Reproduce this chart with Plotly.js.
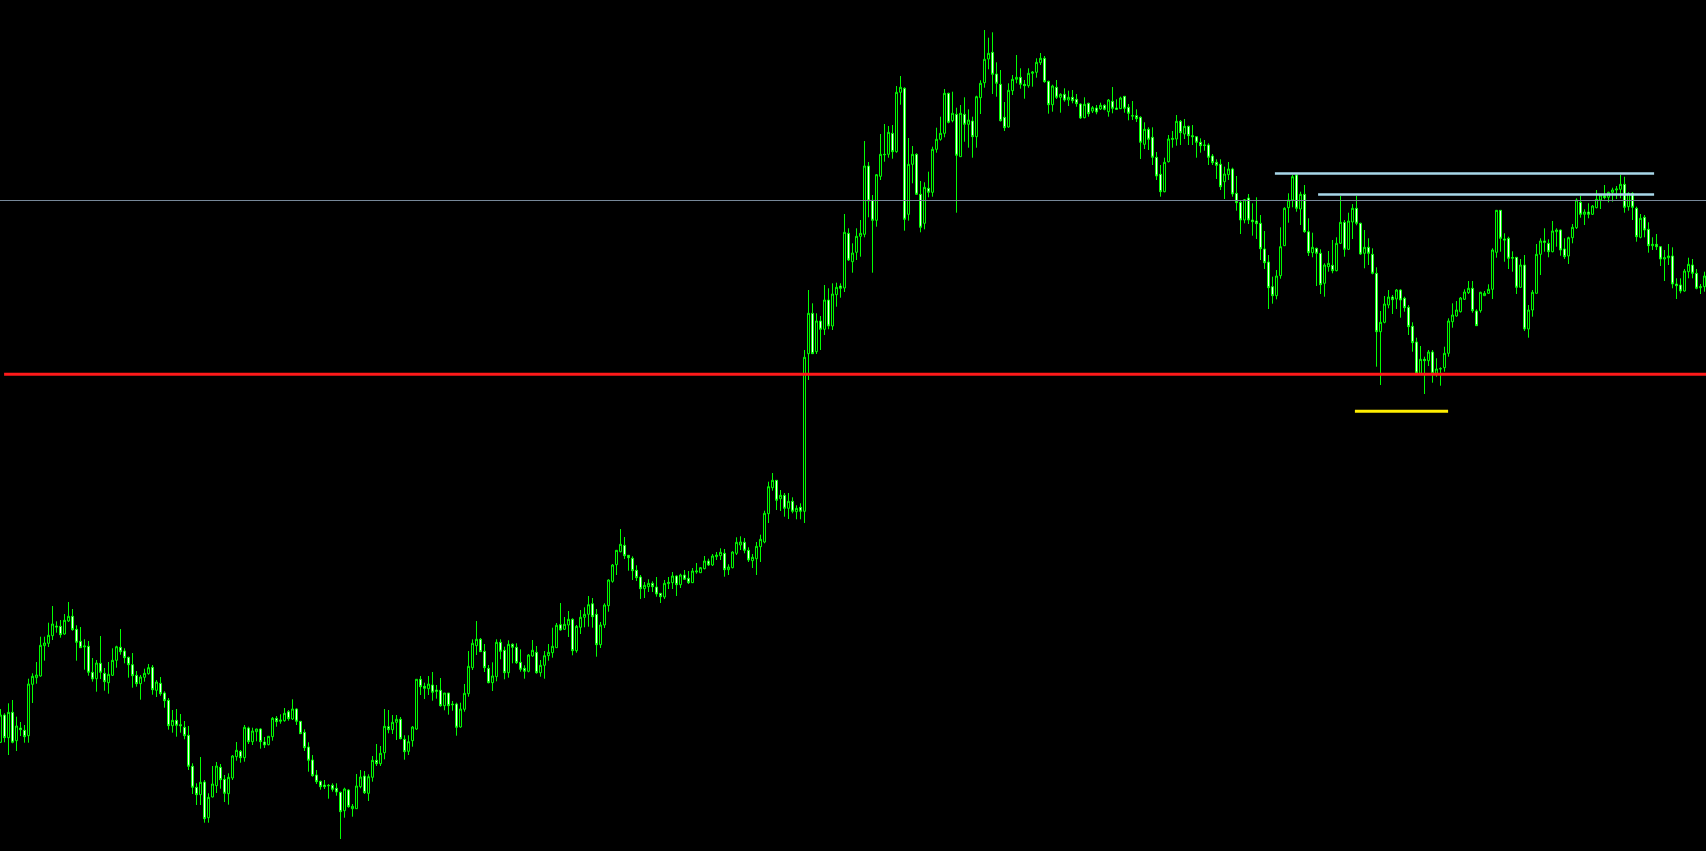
<!DOCTYPE html>
<html>
<head>
<meta charset="utf-8">
<script src="https://cdn.plot.ly/plotly-3.0.1.min.js"></script>
<style>
html,body{margin:0;padding:0;background:#000;overflow:hidden;}
#chart{width:1706px;height:851px;}
</style>
</head>
<body>
<div id="chart"></div>
<script>
// Candle data (price units), one entry per bar, left to right
const openPrices = [
257.7,285,262.3,287.7,259.3,272,269.7,264.3,315.7,322.3,
324,354.3,356.7,364.3,374,373.7,366,379,383.7,370.7,
358.7,353,353.7,327.7,321.3,336.7,326.7,317.3,324.7,339.7,
352.7,349,342.7,335.3,324.7,316.3,322.7,326.3,332.7,309.7,
316.7,307,299.7,274.3,279.7,275.3,272.7,264.7,233.7,212.7,
205.3,218,182.3,203,214.3,232.7,220.7,206.3,222,243.3,
248.7,242.3,272,258.3,268.3,271,258,255.3,263.3,281.7,
278.7,279.3,288.3,281,291,278.7,267.7,253,240,225,
218.7,215,214.7,214.7,211.7,207.7,189.3,210,191.3,191.3,
213.3,224,206.7,222.7,239.7,236.3,247.3,273.3,270.3,277.7,
280.7,260.7,248.7,259.3,271,320.7,313.7,311.3,315,310,
309.7,294.3,307,296,296,273,290.7,306.3,332.3,354.3,
360.7,348.7,331.7,317.3,323.3,357.7,349.7,327.3,355.7,352.7,
337.7,331.7,328.7,344,347.7,327.3,334.7,344.3,347.3,352.3,
375.3,370.7,375,380.7,349.3,372.7,382.7,385.7,396.3,385.7,
355.3,375,394.3,418.7,435.3,448.3,454.7,444.7,441.7,429.7,
423,411.3,413.3,416.7,413,406.7,403,416.3,417.3,424,
415.3,425,421.7,417.3,428,427.3,431.3,439,435,443.3,
444.3,446.7,430.3,432.3,446.7,455,457.7,449.7,439.3,441.3,
453.3,458,486.3,512.3,519.7,501.3,504.7,491.7,498.7,488.3,
492.7,488.7,646.3,686.7,648.3,679,670.7,700,674,705.3,
714,712,766.7,738.3,747.7,763.7,765.7,834,799.7,779.7,
823.7,845.7,845.7,866.7,848.3,907.7,911.7,785.7,835.7,845.7,
805.7,776.7,811.7,807.7,850.7,860.7,866.7,906.7,879.3,885.7,
843.3,885.7,875.7,879,863.3,902.3,917.3,941,947.7,926,
915.7,882.7,873,909.3,920.7,922.7,915.7,914.3,926.7,927.7,
937.3,941.7,918.7,895.3,912.7,902.7,905.7,900,902.7,900.7,
896,882.3,896.7,889,892,891,894.7,888.3,898.7,892,
891.3,903.7,892.7,884.3,884.3,882.7,855.7,870.7,862.7,842.7,
825.7,808.3,838.3,860.5,861,878.7,866,873.7,864.3,863.3,
857.7,855,855,844,837.7,835.7,818.3,825.3,831,806.7,
797.7,780,802,780,779,776.7,751,738,713.3,704.3,
724.3,754.3,792.3,800,825,791,805.7,768.3,747.3,751.7,
746.7,716.7,733.3,734.7,729.3,756.7,777.7,750.7,778,791.7,
776.7,746.7,752.7,745.7,726.7,668.3,677.7,695,703,701,
710,701.7,692.7,673.7,658,626.7,640.7,639.3,648,626.7,
631,632.3,646.7,678.3,684,688.3,700.7,707.3,711.7,689,
689.3,704.3,706.7,710.7,747.7,789.7,761,761.7,741.7,742.7,
712.7,735,671,690,706.7,745.7,759,756.7,748.3,768.3,
770,751,744,762.3,772.3,797.7,785.7,788,785.7,792.3,
800,804.3,802.7,807.7,810,810.7,815.7,793.3,806.7,791.7,
762.7,782.7,770.7,754.3,755.7,753.3,741,742.3,744,716,
715,709,728.3,735,726.7,712.3,713.3
];
const highPrices = [
291,286.7,296.7,300,283.3,278,275,321.3,326.7,338,
363.3,363.3,377.3,394,378.7,380,386,398,391,374.7,
373,360.7,359,342,340,364,332,338,351.7,354.3,
371,351.7,343.3,347,329,325,331.3,336,335,320,
323,308.7,302,290,291,286,279,274,236.7,216.7,
243,220,206.7,234,238,236,225,226.7,245,258,
250,275,273.3,272.3,271.3,271.7,263,263.7,283,284,
285.7,292,290,300.7,291.7,279,270.7,257.7,245,230,
219.3,220,216,216.7,216.7,208.3,212.3,210.7,196,226,
230,229,225.7,244,256,254,291,290,285,285,
283,264.7,264.7,274,321,324,317.3,324,328,315,
322,307,307,299,297.3,297.3,316,349,360.7,379,
362,356,335,337.7,360.7,360.7,353.3,359.7,356.7,356.7,
350.7,334.7,346,360,354,340,349,356,372.3,377,
397,383,389,381.7,375,390,392.7,404,402,391,
378,396.7,420.7,436,450,471,463,445,443.7,434.7,
425,418,420.7,418.7,423,407,420,423,428,424.7,
426.3,430,429,432,437,433,444,441.3,446,448,
451.7,451,435.7,448.7,462.7,463.7,462,452.7,446,458,
465.3,489.3,518.3,527,520,510,507,507,502.7,494.7,
496.7,650,710,696.7,686.7,684,715,711.7,716.7,717.3,
716.7,786,771.7,756.7,771.7,780,859,838,805,826,
866,876,874,875,914,924,912.7,862,854,846.7,
819,817.7,828.3,853.3,872.3,883.3,911,907.3,908.3,892.3,
895,902.7,890.7,883.3,904.3,919.7,970,962.3,967.7,937.7,
930,898,916.7,925,945,931.7,920,931.7,929,941.7,
947,944,919.3,915.3,920,906.7,911.7,909.3,910,906,
896.7,902.7,897.3,894,895,897.3,895.7,901,913,900.7,
903.3,904,896,899,890.7,883.7,877.7,872.7,872.7,848,
835,842.3,865,869,885,880,881,874.3,875,864,
861.7,860,856.7,846,840.7,840.7,833.3,838,832.3,824,
799,801,806,796.7,802.7,785,769,745,723.3,730,
772.7,792.7,806.7,825,826.7,808.3,815,781.7,767.3,752.3,
750.7,736.7,749,760,762.7,804,780,787.3,796,804,
777.3,770,761.7,751.7,732.7,689,704,710,705,711,
710.7,703.3,695,677.7,662.3,654,643.3,650,650,641.7,
632.7,653.3,681.7,696.7,699,703,710.7,719,719,690.7,
708.3,709,715.7,751.7,790,790,766.7,763.3,748.7,743,
741,745,695,710,756,761.7,771.7,760.7,779,771.7,
770.5,761.7,763.3,776,801.7,804.3,790.7,796.7,795,810,
805.2,815,808.3,812.3,814,825,823.3,807.7,807.7,793.3,
786,785,777.7,762.7,766,754,750,756,752.7,721.7,
721.7,731,742.3,741,731,716,728.3
];
const lowPrices = [
257,257.7,245,256.7,249,264,257.3,257.3,297,316.3,
323.3,339.3,353,360,367.3,362.3,365.3,378,369.3,339.3,
352,330.3,324.3,318.3,308.3,321,309.3,306.3,324,332.3,
345.3,336.7,322.3,312.3,313.3,300.3,318.3,325.3,305.3,303,
304.3,292.3,270.3,267.3,263.3,267.3,260.7,230,206,195,
195,177.3,177.3,202.7,207,211.3,198,195.3,220,239.3,
237.3,238.3,256,255,258.7,251.3,252,254.7,259.3,273.3,
276.3,278.3,279.3,280,275,266,249,228.3,223.3,216,
210.3,211,201.3,208.3,204.3,161,182.3,192.3,183.3,191,
211.7,206,199,218.3,234,234,240.7,266.7,266,260,
260.7,240.3,245,253.3,270,305,301,305,299.3,301.3,
293.3,289.7,285.3,289.3,264.3,272.3,288.3,303.3,330,345,
348,328,316.7,309,318.7,340.7,320.7,322.3,336.7,336,
328.3,321.3,327.7,343.3,326.3,323.3,321.3,339.3,342.3,352,
369.3,370,363,344.7,347.3,366,372.7,373.3,372.3,343.3,
352,372,388.3,417.3,425,447.7,441,429.3,420,419,
401,402,408,408,403.3,397,401,411,411,404,
412,420,416,417,426.3,427,430.7,434,434,440,
440,423.3,425,431.7,445,450,446.7,438,432,425,
438,456.7,477,509.3,490,489,483.3,481,486.7,480.7,
480.7,477,620,646,646,650,665,670.7,670,693.3,
702.3,708,739,727.3,740,743.3,762.7,782.7,727.3,773.3,
820,838.3,842.3,841.3,847.3,895.3,769.3,779.3,816.7,805,
767.7,770.7,802.7,803.3,847.3,859.3,862.7,876.7,877.7,787.3,
843,858.3,852.3,842.3,852.3,886,912.3,930.7,906,903.3,
878.5,869,872.3,905,916.7,911.3,901.3,912.3,913.3,922.3,
935,917.3,886.3,888.3,901,887.3,898.3,894,896.7,893.3,
881,881.7,883.3,887,885.7,890,889.7,883.3,886.7,890,
891,887.3,879.7,880,878,841,851,850,835,820,
803.3,807.7,837.5,852.3,854.3,855,861,855,855,842.3,
847.3,849.3,835,835,821,810,801,820,803.3,789.3,
766,776.7,776,764.3,761,740,731,691,696.3,700.7,
721.3,754,777.3,792.7,788.3,775,767.3,744,742.7,714,
706,703.3,728.3,726.7,728.7,756,743.3,750,761,774.7,
745,731.7,735,725.7,633.3,615,676.7,691.7,686,691,
682.3,688.3,665,648.3,625,626.5,606,634,617.3,623.3,
614.3,628.3,643.3,672.3,683.3,687.5,700,706,687.3,674,
687.3,704,706,701,742.3,748.3,738.3,731,728.3,706,
712.5,669,662.3,683.3,706.5,725,748.3,742.7,747.7,753.3,
744.3,741,736,756.7,771,782.3,775,781.7,785,791.7,
791,800.7,797.7,798.3,801,801.7,787.3,789.3,780,758.3,
761.7,762.7,747.3,750,750,734,719,735,711.7,701,
706.7,708.3,721.7,721.7,710.7,706,708.3
];
const closePrices = [
285,262.3,287.7,257.7,274,270.3,263.3,316,323.7,325,
354.7,357,364.7,376,373,365.3,379.7,383.7,370.3,357.7,
352.3,354,327.7,321,337,327.7,318.3,325.7,339.7,353.3,
348.3,342.3,335.3,324.3,316.3,323,326.7,332.3,310.3,318,
306.3,299.3,274.3,279.7,274.7,274.3,264.3,233.7,212.7,205.3,
217.7,181.3,202.7,216,234,220.3,206.7,222.7,244,249.7,
242.3,272.7,258.3,269,271,258.3,255,263.7,281.7,278.3,
280,286.7,281.3,291,278.7,266.3,252.3,239.7,224.3,218.3,
213.3,213.3,214.3,210.7,208,188.3,211,193.3,193.7,214,
223,207.3,223.3,239.7,236.3,246.7,273.7,270.3,277.7,280.7,
261.3,248.3,258.3,273,320.7,313.3,311.7,316,307.7,308.7,
294.3,307,294.3,295.3,272.7,291,306.7,333.7,356.7,360.7,
348.3,332.3,317.3,324,357.7,348.7,327.3,355.7,352.7,337.3,
330.7,328.7,345,349.7,327.3,334.7,344.3,347.7,353.7,374.7,
370,375.7,380.7,349.3,373.7,382.7,385.7,395.3,383.3,355.3,
375,395,420,435,449.7,455.7,444.3,442.3,429.3,422.3,
411.3,414.7,416.7,413.3,406,403.3,416.7,417.7,424,415.3,
425,420.7,417.3,429,429,432.3,439,435,444,445,
447.7,430.3,433,448,457.7,458,449.7,440,442.7,453.7,
460.7,486.7,513.3,519.7,499.7,504.7,491.7,498.7,488.7,491.7,
488.7,642.7,686.7,646.3,679,670.7,700,674,706,712.7,
711.7,767.7,740,747,763.7,766.7,834,799,779.7,825.3,
845.7,845.3,867.7,848.3,907.7,912.7,780.7,835.7,845.7,805.7,
772.7,812.7,807.7,850.7,860.7,866.7,906.7,877.7,886.7,844.7,
886.7,875.7,880,863.3,903.3,916.7,940.7,946.7,925.7,916.7,
879.3,872.3,909.7,920.7,922.7,915.7,914.3,926.7,928,937.7,
941.7,918.3,895.3,914,902.7,905.7,900,902.7,899.3,896.3,
882,895.7,886.3,892.3,888,894.7,890.7,900,891.7,890.7,
902,891.7,886.7,884,881.3,857.7,870.7,860.7,842.7,824,
808.3,837.7,861,861.7,878.7,867.3,873.7,864.3,863.3,857.7,
854.3,854.7,842.7,837.3,834.7,813.3,826,831,806,797.3,
780,800.3,780,778.3,776.3,751.3,737.3,712.3,704.3,724,
753.3,791.7,800,823.3,791.7,805.7,768.3,747.3,752.7,746.7,
715.3,735,736.7,729.3,756.7,777.7,750.7,779,791.7,776.7,
746,752.7,746.7,726.7,668.3,677.7,696,703,700.3,710,
700,692.3,673.3,657.3,627,640.7,639.3,648,626.7,631,
631.3,646.7,679,685,690,702,708,711.7,689.3,674.3,
707.7,706.7,710.7,750,789.7,761.7,760,741.7,742.5,712.7,
735,671,690,707.7,745.7,759,757.7,748.3,769,770,
750,743.3,762.3,772.7,800,785.7,788,785.7,794,800.7,
805,802.3,807.7,810,811,815.7,792.7,806.7,792.7,763.3,
781.7,770,754.3,755.7,753.3,741,742.3,744,716,714.3,
709,729,735.7,726.7,711.7,713.3,724
];

// Horizontal level lines: price level, start bar, end bar
const levelNames  = ['grey', 'red', 'blueUpper', 'blueLower', 'yellow'];
const levelPrices = [799.5, 625.7, 826.5, 805.5, 588.8];
const levelStart  = [-1, 0.9, 318.6, 329.4, 338.6];
const levelEnd    = [428, 428, 413.4, 413.4, 361.9];

const barIndex = openPrices.map((_, i) => i);
const n = Math.min(openPrices.length, highPrices.length, lowPrices.length, closePrices.length);

const levelStyles = {
  grey:      {color: '#778899', width: 1},
  red:       {color: '#ff1a1a', width: 3},
  blueUpper: {color: '#a8d8ea', width: 2.6},
  blueLower: {color: '#a8d8ea', width: 2.6},
  yellow:    {color: '#ffee00', width: 3}
};

const traces = [{
  type: 'candlestick',
  x: barIndex.slice(0, n),
  open: openPrices.slice(0, n),
  high: highPrices.slice(0, n),
  low: lowPrices.slice(0, n),
  close: closePrices.slice(0, n),
  increasing: {line: {color: '#00ff00', width: 1}, fillcolor: '#000000'},
  decreasing: {line: {color: '#00ff00', width: 1}, fillcolor: '#ffffff'},
  whiskerwidth: 0,
  hoverinfo: 'skip',
  showlegend: false
}];

levelNames.forEach((name, k) => {
  traces.push({
    type: 'scatter',
    mode: 'lines',
    x: [levelStart[k], levelEnd[k]],
    y: [levelPrices[k], levelPrices[k]],
    line: levelStyles[name],
    hoverinfo: 'skip',
    showlegend: false
  });
});

const layout = {
  width: 1706,
  height: 851,
  margin: {l: 0, r: 0, t: 0, b: 0, pad: 0},
  paper_bgcolor: '#000000',
  plot_bgcolor: '#000000',
  boxgap: 0.3,
  showlegend: false,
  xaxis: {visible: false, range: [-0.125, 426.375], rangeslider: {visible: false}, fixedrange: true},
  yaxis: {visible: false, range: [149, 1000], fixedrange: true},
  hovermode: false
};

Plotly.newPlot('chart', traces, layout, {displayModeBar: false, staticPlot: true});
</script>
</body>
</html>
